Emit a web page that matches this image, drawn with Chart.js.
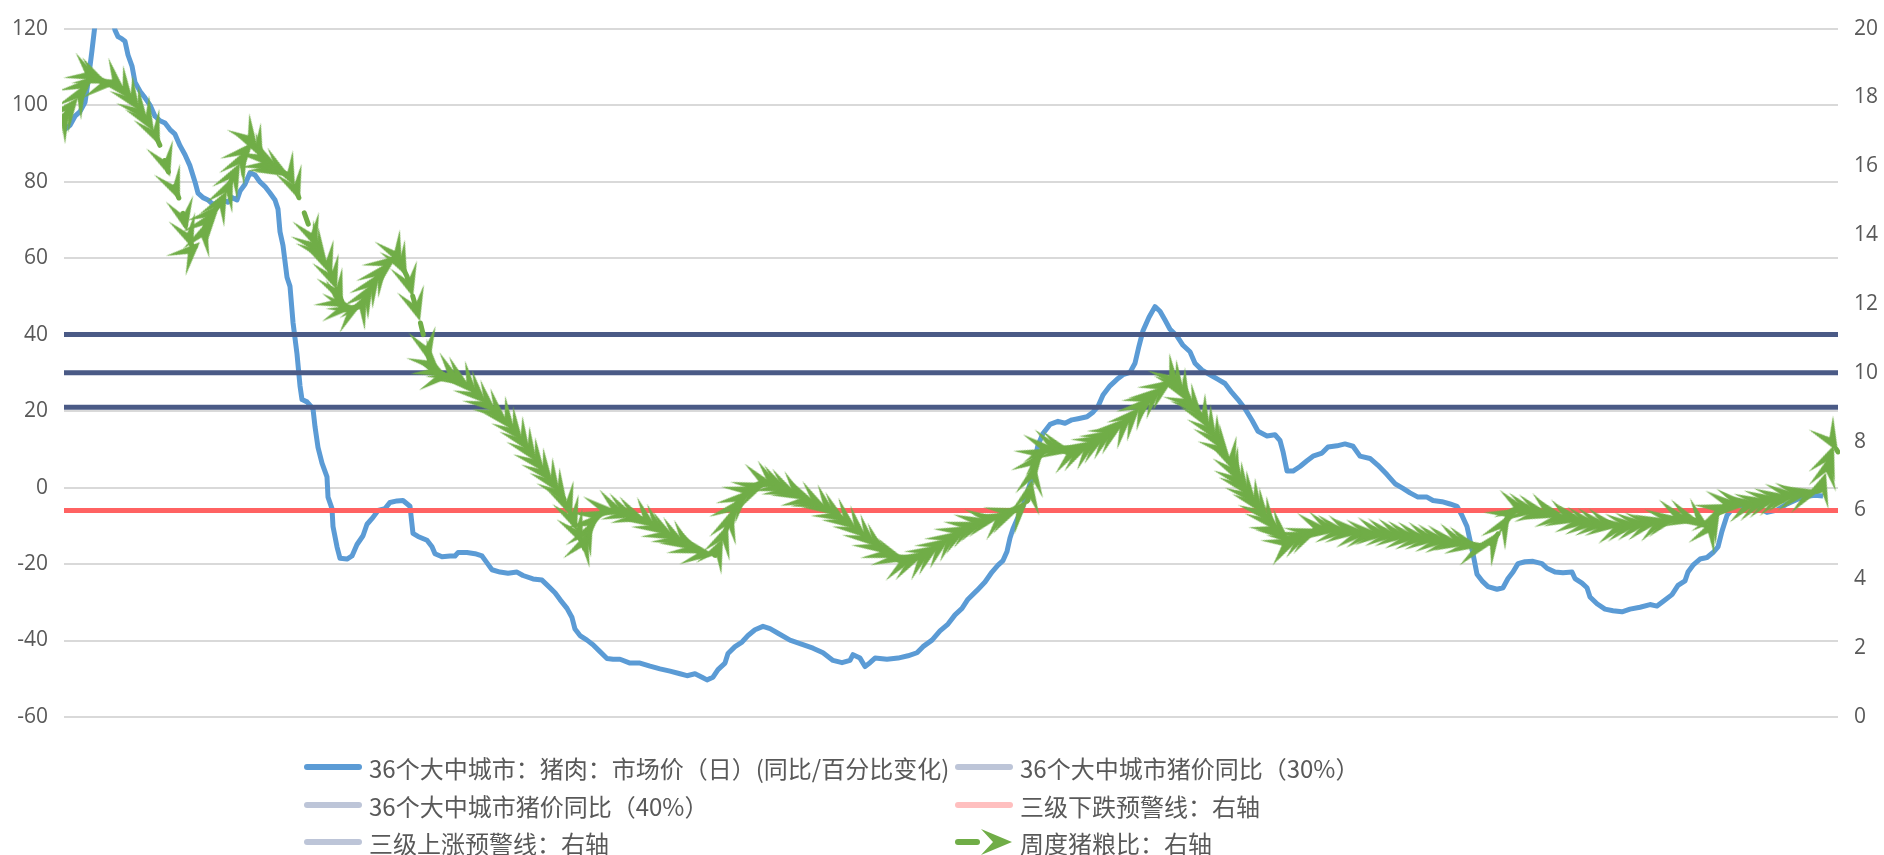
<!DOCTYPE html>
<html><head><meta charset="utf-8">
<script src="https://cdn.jsdelivr.net/npm/chart.js@4"></script>
<style>
html,body{margin:0;padding:0;background:#fff;}
#wrap{position:relative;width:1884px;height:855px;}
.lg{position:absolute;height:32px;display:flex;align-items:center;font-family:"Noto Sans CJK SC","Noto Sans",sans-serif;font-size:24px;color:#595959;white-space:nowrap;}
.lg svg{margin-right:7px;flex:none;}
</style></head>
<body><div id="wrap"><canvas id="c" width="1884" height="855"></canvas><div id="legend"></div></div>
<script>
// ---- data (x = day index across the period) ----
const blueDay = [0,6,11,16,21,24,28,31,36,42,48,51,54,58,61,64,68,71,76,81,86,91,96,101,106,111,116,121,126,131,134,139,144,149,154,159,164,168,173,176,181,186,191,196,201,206,211,214,216,219,223,226,229,233,236,238,243,249,251,254,258,263,264,268,269,273,276,283,288,293,299,303,309,314,321,326,333,339,346,349,354,363,368,371,378,386,391,394,403,411,418,423,428,436,444,453,459,469,478,484,491,496,503,508,511,516,523,529,536,543,549,556,566,576,586,596,606,616,623,631,638,643,649,654,661,664,671,678,684,691,699,706,714,726,736,749,759,769,778,786,789,796,801,806,811,823,834,844,853,859,868,876,884,891,898,904,913,921,928,934,939,943,946,949,954,959,964,968,971,974,979,986,994,1001,1008,1014,1023,1029,1034,1039,1046,1053,1059,1066,1071,1075,1079,1085,1091,1096,1101,1106,1113,1119,1126,1131,1138,1146,1154,1161,1168,1174,1181,1188,1194,1203,1211,1216,1219,1223,1229,1236,1243,1249,1258,1264,1273,1281,1289,1296,1306,1314,1323,1331,1339,1346,1354,1363,1369,1378,1386,1393,1398,1403,1406,1409,1413,1418,1424,1433,1439,1444,1449,1454,1461,1469,1478,1483,1491,1499,1508,1511,1518,1523,1526,1533,1541,1549,1558,1566,1576,1586,1593,1599,1608,1614,1621,1624,1629,1636,1643,1649,1654,1658,1663,1669,1679,1689,1696,1703,1713,1723,1733,1743,1751,1759];
const blueVal = [93.5,94.7,97.1,98.3,100.7,106,114.3,121,124,125,123,119.6,117.9,117.3,116.7,113.1,110.2,106,103.6,101.9,100,97.1,95.9,95.3,93.6,92.4,89.4,87,84.1,79.9,77,75.8,75.2,74,74.6,75.2,74.6,75.8,75.2,77.5,79.3,82.3,81.7,79.9,78.7,77,75.2,72.8,66.9,63.3,55,52.6,43.2,34.9,26.6,23,22.4,20.6,15.9,10.5,6.4,2.8,-2.5,-5.5,-10.2,-15.5,-18.5,-18.7,-17.9,-14.9,-12.6,-9.6,-7.8,-6,-5.5,-3.9,-3.5,-3.4,-4.9,-12,-12.8,-13.8,-15.5,-17.3,-18.1,-17.9,-17.9,-17,-17,-17.3,-17.9,-19.7,-21.5,-22.1,-22.4,-22.1,-23,-23.9,-24.2,-25.7,-27.5,-29.3,-31.6,-34,-37,-38.7,-39.9,-41.1,-42.9,-44.7,-44.9,-44.9,-45.9,-45.9,-46.7,-47.4,-48,-48.7,-49.2,-48.7,-49.6,-50.3,-49.6,-47.6,-45.9,-43.4,-41.6,-40.4,-38.7,-37.2,-36.3,-36.9,-38.1,-39.9,-40.8,-42,-43.2,-45.2,-45.8,-45.2,-43.7,-44.6,-46.8,-45.8,-44.6,-44.9,-44.6,-44,-43.2,-41.6,-39.9,-37.5,-35.7,-33.3,-31.6,-29.2,-26.9,-24.7,-22.1,-20.3,-19.1,-16.7,-13.2,-10.8,-7.8,-4.9,-0.8,2.7,7.6,11.1,14.1,16.5,17.3,16.8,17.7,18,18.5,19.7,21.2,24.2,26.6,28.3,29.5,30.1,32.5,37,41,44.5,47.3,46.1,43.8,41.4,39.6,37.2,35.5,32.5,30.7,29.5,28.3,27.2,24.8,23,20.6,17.6,14.7,13.5,13.8,12.3,9.4,4.3,4.3,5.5,7,8.2,9,10.6,10.9,11.4,10.8,8.2,7.6,5.8,3.4,1,-0.2,-1.4,-2.5,-2.5,-3.4,-3.7,-4.3,-4.9,-7.3,-10.2,-13.8,-17.3,-22.7,-24.4,-25.9,-26.6,-26.2,-23.8,-22.1,-19.9,-19.4,-19.3,-19.9,-21.1,-22.1,-22.3,-22.1,-23.8,-25,-26.2,-28.6,-30.4,-31.8,-32.2,-32.5,-31.8,-31.3,-30.6,-31,-29.8,-28,-25.6,-24.4,-22.1,-20.3,-18.7,-18.3,-17,-15.5,-11.4,-7.3,-5.3,-4.9,-5.3,-5.5,-6.5,-5.9,-4.3,-3.1,-2.3,-2,-2.2];

const greenDay = [0,6,14,22,29,36,44,53,61,69,76,84,90,96,106,116,123,129,136,143,150,156,163,169,176,183,189,194,199,206,213,220,226,231,236,253,258,263,268,273,279,286,292,298,303,309,316,324,333,338,343,349,356,366,376,383,389,398,406,414,423,433,443,451,459,466,473,481,489,496,503,508,513,519,524,529,536,543,553,563,573,583,593,603,613,623,631,639,651,659,664,669,677,686,694,703,711,718,726,734,743,753,763,773,783,793,803,813,823,833,843,851,859,868,876,886,896,906,916,926,936,946,956,964,968,971,979,986,993,1001,1009,1018,1026,1034,1043,1051,1059,1068,1076,1086,1093,1099,1109,1116,1121,1126,1133,1139,1146,1153,1159,1166,1171,1176,1181,1186,1193,1199,1206,1213,1220,1226,1233,1239,1248,1256,1266,1276,1286,1296,1306,1316,1326,1336,1346,1356,1366,1376,1386,1396,1406,1416,1426,1436,1446,1456,1466,1476,1486,1496,1506,1516,1526,1536,1546,1556,1566,1576,1586,1596,1606,1616,1626,1636,1646,1651,1656,1666,1676,1686,1696,1706,1716,1726,1736,1746,1756,1762,1766,1770,1774];
const greenVal = [17.4,17.7,18.0,18.4,18.6,18.5,18.4,18.4,18.2,17.9,17.6,17.3,17.0,16.6,15.7,15.0,14.1,13.6,13.8,14.4,14.7,14.9,15.3,15.7,16.1,16.5,16.7,16.5,16.2,16.0,15.9,15.8,15.7,15.4,15.0,13.6,13.4,13.2,12.8,12.4,12.0,11.9,11.9,12.0,12.3,12.6,12.9,13.2,13.4,13.1,12.8,12.2,11.5,10.3,10.0,9.9,9.9,9.75,9.6,9.35,9.1,8.85,8.6,8.3,8.0,7.7,7.4,7.1,6.8,6.5,6.2,5.8,5.4,5.0,5.4,5.7,5.9,6.0,6.0,5.9,5.8,5.7,5.5,5.3,5.15,5.0,4.85,4.75,4.7,5.2,5.6,6.05,6.35,6.6,6.7,6.8,6.75,6.65,6.55,6.45,6.3,6.2,6.06,5.85,5.67,5.45,5.2,4.95,4.74,4.62,4.54,4.6,4.68,4.85,5.0,5.2,5.4,5.55,5.67,5.75,5.8,5.95,6.06,6.3,6.9,7.4,7.7,7.8,7.8,7.75,7.7,7.8,7.9,8.05,8.2,8.35,8.5,8.75,9.0,9.3,9.45,9.6,9.8,9.55,9.35,9.1,8.9,8.7,8.35,8.03,7.75,7.5,7.1,6.8,6.6,6.4,6.15,5.9,5.65,5.4,5.25,5.1,5.2,5.27,5.38,5.47,5.45,5.4,5.37,5.33,5.33,5.33,5.3,5.27,5.23,5.2,5.17,5.13,5.1,5.07,5.0,4.94,5.0,5.4,5.9,6.06,6.0,5.95,5.9,5.8,5.75,5.67,5.63,5.6,5.57,5.53,5.57,5.6,5.63,5.67,5.75,5.8,5.75,5.67,5.47,5.8,6.06,6.19,6.2,6.19,6.25,6.32,6.38,6.44,6.47,6.5,6.58,7.1,7.6,7.9,7.7];

const yoy30 = 30, yoy40 = 40;      // left axis
const warnDown = 6, warnUp = 9;    // right axis
const dayRange = [0, 1774];
const leftTicks = {min:-60, max:120, step:20};
const rightTicks = {min:0, max:20, step:2};

const labels = ['36个大中城市：猪肉：市场价（日）(同比/百分比变化)','36个大中城市猪价同比（30%）','36个大中城市猪价同比（40%）','三级下跌预警线：右轴','三级上涨预警线：右轴','周度猪粮比：右轴'];

// ---- styling ----
const C = {blue:'#5B9BD5', navy:'#4A5A86', red:'#FF6262', green:'#70AD47', grid:'#D9D9D9', text:'#595959',
           lgNavy:'#BDC5D8', lgRed:'#FFBFBF'};

function makeArrow(color){
  const L=34,H=14;
  const c=document.createElement('canvas'); c.width=2*L; c.height=2*H+2;
  const g=c.getContext('2d'); const cx=L, cy=H+1;
  g.fillStyle=color; g.beginPath();
  g.moveTo(cx,cy); g.lineTo(cx-L,cy-H); g.lineTo(cx-L*0.5,cy); g.lineTo(cx-L,cy+H); g.closePath(); g.fill();
  return c;
}
const arrowImg = makeArrow(C.green);

function arrowRotation(ctx){
  if(ctx.type!=='data') return 0;
  const ch=ctx.chart, xs=ch.scales.x, ys=ch.scales.y2;
  const i=ctx.dataIndex; const a=i>0?i-1:0, b=i>0?i:1;
  const dx=xs.getPixelForValue(greenDay[b])-xs.getPixelForValue(greenDay[a]);
  const dy=ys.getPixelForValue(greenVal[b])-ys.getPixelForValue(greenVal[a]);
  return Math.atan2(dy,dx)*180/Math.PI;
}

const zip=(xs,ys)=>xs.slice(0,Math.min(xs.length,ys.length)).map((x,i)=>({x, y:ys[i]}));
const hline=v=>[{x:dayRange[0],y:v},{x:dayRange[1],y:v}];

const tickFont={family:'Open Sans', size:21};

new Chart(document.getElementById('c'), {
  type:'line',
  data:{datasets:[
    {label:labels[0], data:zip(blueDay,blueVal), yAxisID:'y', borderColor:C.blue, borderWidth:5, pointRadius:0, borderJoinStyle:'round', clip:0, order:6},
    {label:labels[1], data:hline(yoy30), yAxisID:'y', borderColor:C.navy, borderWidth:5, pointRadius:0, order:5},
    {label:labels[2], data:hline(yoy40), yAxisID:'y', borderColor:C.navy, borderWidth:5, pointRadius:0, order:4},
    {label:labels[3], data:hline(warnDown), yAxisID:'y2', borderColor:C.red, borderWidth:5, pointRadius:0, order:3},
    {label:labels[4], data:hline(warnUp), yAxisID:'y2', borderColor:C.navy, borderWidth:5, pointRadius:0, order:2},
    {label:labels[5], data:zip(greenDay,greenVal), yAxisID:'y2', borderColor:C.green, backgroundColor:C.green, borderWidth:5,
     borderDash:[12,16], borderCapStyle:'round', pointStyle:arrowImg, pointRadius:3, pointRotation:arrowRotation, clip:2, order:1}
  ]},
  options:{
    responsive:false, animation:false, events:[],
    layout:{padding:{left:0,right:0,top:19,bottom:138}},
    plugins:{legend:{display:false}, tooltip:{enabled:false}},
    scales:{
      x:{type:'linear', min:dayRange[0], max:dayRange[1], display:false},
      y:{position:'left', min:leftTicks.min, max:leftTicks.max,
         ticks:{stepSize:leftTicks.step, padding:16, color:C.text, font:tickFont},
         grid:{color:C.grid, lineWidth:2, drawTicks:false}, border:{display:false},
         afterFit:s=>{s.width=64;}},
      y2:{position:'right', min:rightTicks.min, max:rightTicks.max,
         ticks:{stepSize:rightTicks.step, padding:16, color:C.text, font:tickFont},
         grid:{display:false, drawTicks:false}, border:{display:false},
         afterFit:s=>{s.width=46;}}
    }
  }
});

// ---- legend (two columns, three rows) ----
const legendColors=[C.blue,C.lgNavy,C.lgNavy,C.lgRed,C.lgNavy,C.green];
const colX=[304,955], rowY=[767,805,842];
const lg=document.getElementById('legend');
labels.forEach((t,i)=>{
  const d=document.createElement('div'); d.className='lg';
  d.style.left=colX[i%2]+'px'; d.style.top=(rowY[Math.floor(i/2)]-16)+'px';
  let svg;
  if(i===5){
    svg=`<svg width="58" height="30"><line x1="3" y1="15" x2="22" y2="15" stroke="${legendColors[i]}" stroke-width="6" stroke-linecap="round"/><polygon points="26,2 57,15 26,28 38,15" fill="${legendColors[i]}"/></svg>`;
  } else {
    svg=`<svg width="58" height="30"><line x1="3" y1="15" x2="55" y2="15" stroke="${legendColors[i]}" stroke-width="6" stroke-linecap="round"/></svg>`;
  }
  d.innerHTML=svg+'<span>'+t+'</span>';
  lg.appendChild(d);
});
</script>
</body></html>
